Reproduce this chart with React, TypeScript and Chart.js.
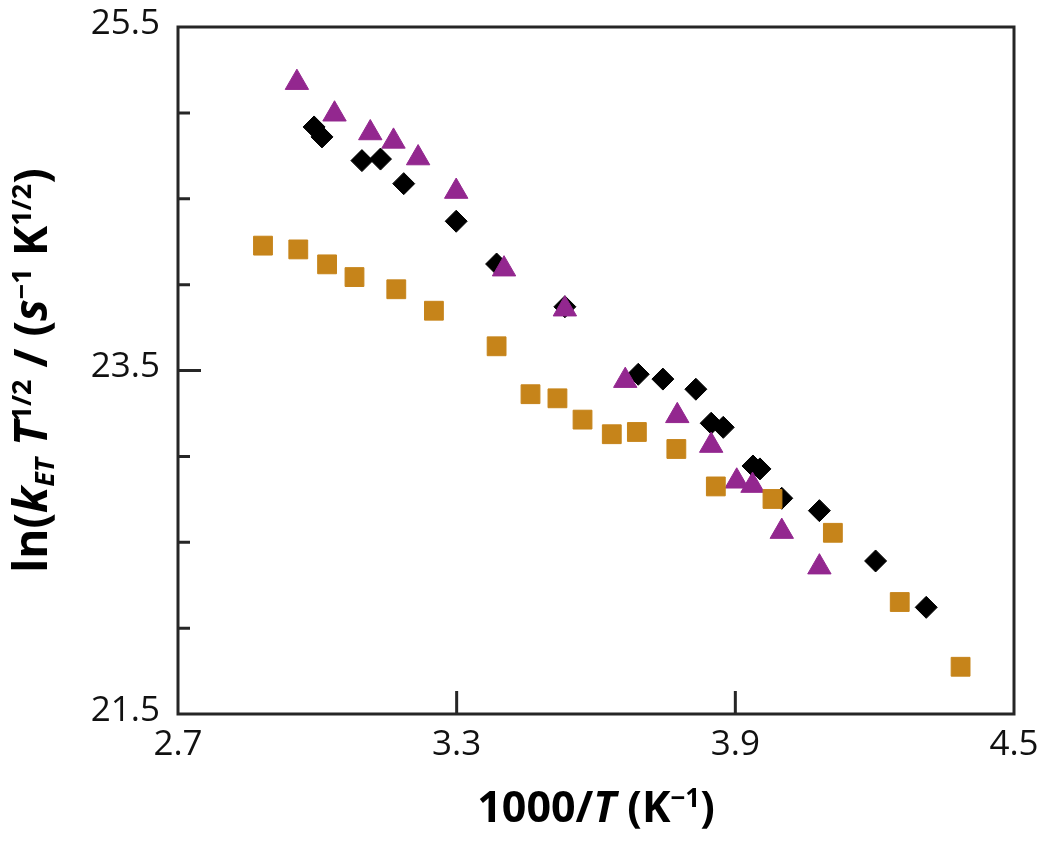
import React, { useEffect, useRef } from "react";
import { Chart, registerables } from "chart.js";

Chart.register(...registerables);

// ---- data ----
const xSquares = [2.883, 2.959, 3.021, 3.080, 3.170, 3.251, 3.386, 3.459, 3.517, 3.571, 3.634, 3.688, 3.773, 3.858, 3.980, 4.110, 4.254, 4.385];
const ySquares = [24.227, 24.205, 24.118, 24.044, 23.973, 23.848, 23.641, 23.362, 23.338, 23.214, 23.129, 23.142, 23.043, 22.825, 22.752, 22.555, 22.152, 21.775];

const xTriangles = [2.956, 3.037, 3.114, 3.164, 3.217, 3.299, 3.402, 3.533, 3.663, 3.775, 3.848, 3.903, 3.937, 4.000, 4.081];
const yTriangles = [25.176, 24.992, 24.883, 24.834, 24.737, 24.542, 24.090, 23.857, 23.441, 23.236, 23.063, 22.855, 22.830, 22.562, 22.355];

const xDiamonds = [2.993, 3.010, 3.096, 3.136, 3.186, 3.299, 3.386, 3.533, 3.691, 3.744, 3.815, 3.848, 3.874, 3.938, 3.953, 4.000, 4.081, 4.202, 4.311];
const yDiamonds = [24.918, 24.860, 24.722, 24.731, 24.588, 24.369, 24.120, 23.871, 23.478, 23.450, 23.391, 23.193, 23.169, 22.944, 22.927, 22.756, 22.684, 22.391, 22.121];

const xTicks = [2.7, 3.3, 3.9, 4.5];
const yTicks = [21.5, 22.0, 22.5, 23.0, 23.5, 24.0, 24.5, 25.0, 25.5];
const yLabelTicks = [21.5, 23.5, 25.5];

const AXIS_COLOR = "#262626";
const FONT = "'Open Sans', 'DejaVu Sans', sans-serif";

const toPoints = (xs: number[], ys: number[]) => xs.map((x, i) => ({ x, y: ys[i] }));
const near = (a: number, b: number) => Math.abs(a - b) < 1e-6;

type Seg = { t: string; size: number; italic?: boolean; shift?: number };

function drawRich(ctx: CanvasRenderingContext2D, segs: Seg[], cx: number, baseY: number) {
  const fontFor = (s: Seg) => `${s.italic ? "italic " : ""}bold ${s.size}px ${FONT}`;
  let total = 0;
  const widths: number[] = [];
  for (const s of segs) {
    ctx.font = fontFor(s);
    const w = ctx.measureText(s.t).width;
    widths.push(w);
    total += w;
  }
  let x = cx - total / 2;
  ctx.textAlign = "left";
  ctx.textBaseline = "alphabetic";
  segs.forEach((s, i) => {
    ctx.font = fontFor(s);
    ctx.fillText(s.t, x, baseY + (s.shift || 0));
    x += widths[i];
  });
}

const yTitle: Seg[] = [
  { t: "ln(", size: 46 },
  { t: "k", size: 46, italic: true },
  { t: "ET", size: 27, italic: true, shift: 7 },
  { t: " ", size: 46 },
  { t: "T", size: 46, italic: true },
  { t: "1/2", size: 27, shift: -16 },
  { t: " / (", size: 46 },
  { t: "s", size: 46, italic: true },
  { t: "\u22121", size: 27, shift: -16 },
  { t: " ", size: 46 },
  { t: "K", size: 46 },
  { t: "1/2", size: 27, shift: -16 },
  { t: ")", size: 46 },
];

const xTitle: Seg[] = [
  { t: "1000/", size: 43 },
  { t: "T", size: 43, italic: true },
  { t: " (K", size: 43 },
  { t: "\u22121", size: 26, shift: -15 },
  { t: ")", size: 43 },
];

const framePlugin = {
  id: "frameTicks",
  afterDraw(chart: any) {
    const { ctx, chartArea: a, scales } = chart;
    const xs = scales.x;
    const ys = scales.y;
    ctx.save();
    ctx.strokeStyle = AXIS_COLOR;
    ctx.lineWidth = 3;
    ctx.strokeRect(a.left, a.top, a.right - a.left, a.bottom - a.top);
    ctx.beginPath();
    for (const v of yTicks) {
      const py = ys.getPixelForValue(v);
      if (near(v, yTicks[0]) || near(v, yTicks[yTicks.length - 1])) continue;
      const len = yLabelTicks.some((l) => near(l, v)) ? 23 : 12;
      ctx.moveTo(a.left, py);
      ctx.lineTo(a.left + len, py);
    }
    for (const v of xTicks) {
      if (near(v, xTicks[0]) || near(v, xTicks[xTicks.length - 1])) continue;
      const px = xs.getPixelForValue(v);
      ctx.moveTo(px, a.bottom);
      ctx.lineTo(px, a.bottom - 23);
    }
    ctx.stroke();

    ctx.fillStyle = "#000";
    drawRich(ctx, xTitle, (a.left + a.right) / 2, 822);
    ctx.save();
    ctx.translate(47, (a.top + a.bottom) / 2);
    ctx.rotate(-Math.PI / 2);
    drawRich(ctx, yTitle, 0, 0);
    ctx.restore();
    ctx.restore();
  },
};

export default function App() {
  const ref = useRef<HTMLCanvasElement | null>(null);

  useEffect(() => {
    if (!ref.current) return;
    const chart = new Chart(ref.current, {
      type: "scatter",
      data: {
        datasets: [
          {
            label: "squares",
            data: toPoints(xSquares, ySquares),
            pointStyle: "rect",
            pointRadius: 13.3,
            pointHoverRadius: 13.3,
            backgroundColor: "#C6841A",
            borderColor: "#C6841A",
            borderWidth: 1,
            order: 1,
          },
          {
            label: "triangles",
            data: toPoints(xTriangles, yTriangles),
            pointStyle: "triangle",
            pointRadius: 13.5,
            pointHoverRadius: 13.5,
            backgroundColor: "#93278F",
            borderColor: "#93278F",
            borderWidth: 1,
            order: 2,
          },
          {
            label: "diamonds",
            data: toPoints(xDiamonds, yDiamonds),
            pointStyle: "rectRot",
            pointRadius: 11,
            pointHoverRadius: 11,
            backgroundColor: "#000000",
            borderColor: "#000000",
            borderWidth: 1,
            order: 3,
          },
        ],
      },
      options: {
        responsive: false,
        animation: false,
        devicePixelRatio: 1,
        events: [],
        layout: { padding: { left: 0, top: 27, right: 36, bottom: 0 } },
        plugins: { legend: { display: false }, tooltip: { enabled: false } },
        scales: {
          x: {
            type: "linear",
            min: 2.7,
            max: 4.5,
            afterBuildTicks: (s: any) => {
              s.ticks = xTicks.map((v) => ({ value: v }));
            },
            afterFit: (s: any) => {
              s.height = 134;
              s.paddingLeft = 0;
              s.paddingRight = 0;
            },
            grid: { display: false, drawTicks: false },
            border: { display: false },
            ticks: {
              autoSkip: false,
              maxRotation: 0,
              padding: 10,
              color: "#111",
              font: { family: FONT, size: 35 },
              callback: (v: any) => Number(v).toFixed(1),
            },
          },
          y: {
            type: "linear",
            min: 21.5,
            max: 25.5,
            afterBuildTicks: (s: any) => {
              s.ticks = yTicks.map((v) => ({ value: v }));
            },
            afterFit: (s: any) => {
              s.width = 178;
              s.paddingTop = 0;
              s.paddingBottom = 0;
            },
            grid: { display: false, drawTicks: false },
            border: { display: false },
            ticks: {
              autoSkip: false,
              padding: 18,
              labelOffset: -3,
              color: "#111",
              font: { family: FONT, size: 35 },
              callback: (v: any) => (yLabelTicks.some((l) => near(l, Number(v))) ? Number(v).toFixed(1) : ""),
            },
          },
        },
      },
      plugins: [framePlugin],
    } as any);
    return () => chart.destroy();
  }, []);

  return (
    <div style={{ position: "absolute", left: 0, top: 0, width: 1050, height: 848, background: "#fff" }}>
      <canvas ref={ref} width={1050} height={848} style={{ display: "block" }} />
    </div>
  );
}
